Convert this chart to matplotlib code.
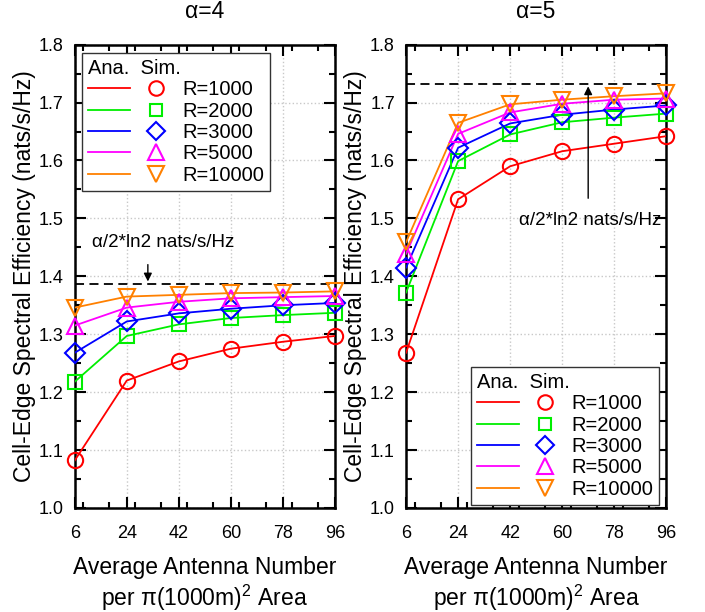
import numpy as np
import matplotlib
matplotlib.use("Agg")
import matplotlib.pyplot as plt
from matplotlib.ticker import MultipleLocator

plt.rcParams['font.family'] = ['Liberation Sans', 'DejaVu Sans']
plt.rcParams['mathtext.fontset'] = 'custom'
plt.rcParams['mathtext.rm'] = 'Liberation Sans'

# --- data ---
antennas = [6, 24, 42, 60, 78, 96]
radii = ["R=1000", "R=2000", "R=3000", "R=5000", "R=10000"]
colors = ["#ff0000", "#00ee00", "#0000ff", "#ff00ff", "#ff8000"]
markers = ["o", "s", "D", "^", "v"]
msizes = [11, 9.5, 10, 12, 12]

# alpha = 4
eff_a4_r1000 = [1.082, 1.220, 1.253, 1.275, 1.287, 1.297]
eff_a4_r2000 = [1.218, 1.297, 1.317, 1.328, 1.333, 1.337]
eff_a4_r3000 = [1.268, 1.322, 1.336, 1.344, 1.350, 1.354]
eff_a4_r5000 = [1.315, 1.346, 1.356, 1.362, 1.364, 1.366]
eff_a4_r10000 = [1.346, 1.365, 1.368, 1.371, 1.372, 1.374]

# alpha = 5
eff_a5_r1000 = [1.268, 1.533, 1.590, 1.616, 1.629, 1.642]
eff_a5_r2000 = [1.372, 1.599, 1.645, 1.666, 1.674, 1.681]
eff_a5_r3000 = [1.415, 1.622, 1.664, 1.679, 1.688, 1.695]
eff_a5_r5000 = [1.439, 1.646, 1.683, 1.698, 1.705, 1.707]
eff_a5_r10000 = [1.459, 1.665, 1.697, 1.705, 1.711, 1.716]

alpha_vals = [4, 5]
panels = [
    [eff_a4_r1000, eff_a4_r2000, eff_a4_r3000, eff_a4_r5000, eff_a4_r10000],
    [eff_a5_r1000, eff_a5_r2000, eff_a5_r3000, eff_a5_r5000, eff_a5_r10000],
]

fig = plt.figure(figsize=(7.05, 6.12), dpi=100)
ax_left = fig.add_axes([0.106, 0.170, 0.369, 0.757])
ax_right = fig.add_axes([0.576, 0.170, 0.369, 0.757])
axes = [ax_left, ax_right]

for ax, alpha, series in zip(axes, alpha_vals, panels):
    for vals, c, m, ms in zip(series, colors, markers, msizes):
        ax.plot(antennas, vals, color=c, lw=1.3, zorder=3)
        ax.plot(antennas, vals, linestyle="none", marker=m, markersize=ms,
                markerfacecolor="none", markeredgecolor=c, markeredgewidth=1.5,
                zorder=4, clip_on=False)

    limit = alpha / 2 * np.log(2)
    ax.axhline(limit, color="k", lw=1.3, ls=(0, (5, 3)), zorder=2)

    ax.set_xlim(6, 96)
    ax.set_ylim(1.0, 1.8)
    ax.set_xticks(antennas)
    ax.xaxis.set_minor_locator(MultipleLocator(9))
    ax.yaxis.set_major_locator(MultipleLocator(0.1))
    ax.yaxis.set_minor_locator(MultipleLocator(0.05))
    ax.tick_params(which="both", direction="in", top=True, right=True,
                   width=1.5, labelsize=13)
    ax.tick_params(which="major", length=8)
    ax.tick_params(axis="y", which="major", pad=8)
    ax.tick_params(axis="x", which="major", pad=12)
    ax.tick_params(which="minor", length=4)
    for sp in ax.spines.values():
        sp.set_linewidth(1.8)
    ax.grid(True, which="major", color="#c8c8c8", ls=":", lw=1)
    ax.set_axisbelow(True)

    ax.set_title(f"α={alpha}", fontsize=16.5, pad=19)
    ax.set_ylabel("Cell-Edge Spectral Efficiency (nats/s/Hz)", fontsize=16.5, labelpad=2)
    ax.set_xlabel("Average Antenna Number\nper π(1000m)$^2$ Area", fontsize=16.5,
                  labelpad=10, linespacing=1.2)

    # legend: line column + marker column
    line_h = [plt.Line2D([], [], color=c, lw=1.3) for c in colors]
    mark_h = [plt.Line2D([], [], ls="none", marker=m, markersize=ms * 0.95,
                         markerfacecolor="none", markeredgecolor=c,
                         markeredgewidth=1.5)
              for c, m, ms in zip(colors, markers, msizes)]
    if alpha == 4:
        loc, anchor = "upper left", (7 / 260, 1 - 8 / 463)
    else:
        loc, anchor = "lower right", (1 - 7 / 260, 3 / 463)
    leg = ax.legend(line_h + mark_h, [""] * 5 + radii, ncol=2, loc=loc,
                    bbox_to_anchor=anchor, borderaxespad=0,
                    fontsize=14.5, title="Ana.  Sim.", title_fontsize=14.5,
                    alignment="left", handlelength=2.1, handletextpad=0.25,
                    columnspacing=0.0, labelspacing=0.12, borderpad=0.3,
                    fancybox=False, framealpha=1, edgecolor="#333333")
    leg.get_frame().set_linewidth(1.0)
    leg.set_zorder(5)

# annotations for the asymptotic limit
ax_left.annotate("", xy=(31.3, 2 * np.log(2)), xytext=(31.3, 1.425),
                 arrowprops=dict(arrowstyle="-|>", color="k", lw=1, mutation_scale=12))
ax_left.text(36.5, 1.458, "α/2*ln2 nats/s/Hz", fontsize=13.5, ha="center", va="center")

ax_right.annotate("", xy=(69, 2.5 * np.log(2)), xytext=(69, 1.53),
                  arrowprops=dict(arrowstyle="-|>", color="k", lw=1, mutation_scale=12))
ax_right.text(69.5, 1.497, "α/2*ln2 nats/s/Hz", fontsize=13.5, ha="center", va="center")

fig.savefig("out.png", dpi=100)
